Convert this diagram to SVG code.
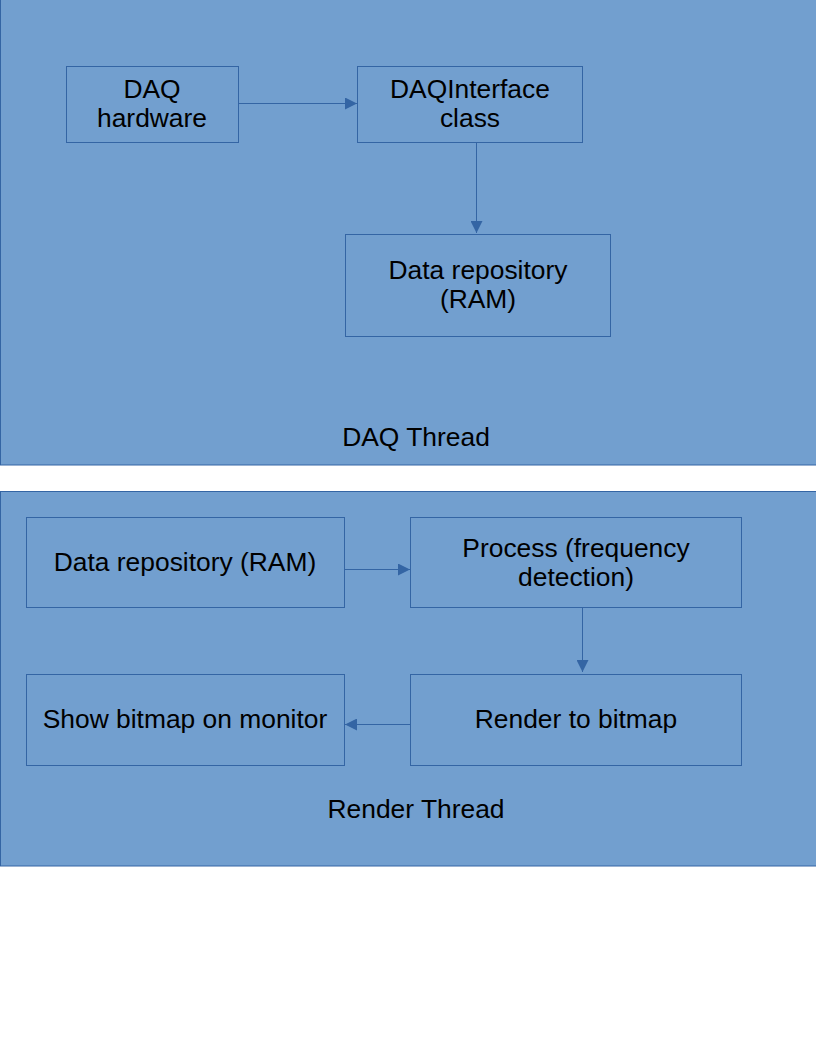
<svg xmlns="http://www.w3.org/2000/svg" width="816" height="1056" viewBox="0 0 816 1056">
<style>
.area{fill:#729fcf;stroke:#3465a4;stroke-width:1}
.box{fill:#729fcf;stroke:#3465a4;stroke-width:1}
.t{font-family:"Liberation Sans",Arial,sans-serif;font-size:26.4px;fill:#000;text-anchor:middle}
.c{stroke:#3465a4;stroke-width:1;fill:none;marker-end:url(#ah)}
</style>
<defs>
<marker id="ah" viewBox="0 0 12 12" refX="12" refY="6" markerWidth="12" markerHeight="12" markerUnits="userSpaceOnUse" orient="auto">
<path d="M0,0 L12,6 L0,12 Z" fill="#3465a4"/>
</marker>
</defs>
<rect width="816" height="1056" fill="#fff"/>
<g id="daq-thread">
<rect class="area" x="0.5" y="-1" width="816" height="466"/>
<text class="t" x="416" y="446">DAQ Thread</text>
</g>
<g id="render-thread">
<rect class="area" x="0.5" y="491.5" width="816" height="374.5"/>
<text class="t" x="416" y="818">Render Thread</text>
</g>
<g id="daq-hardware">
<rect class="box" x="66.5" y="66.5" width="172" height="76"/>
<text class="t" x="152" y="98">DAQ</text>
<text class="t" x="152" y="127">hardware</text>
</g>
<g id="daq-interface">
<rect class="box" x="357.5" y="66.5" width="225" height="76"/>
<text class="t" x="470" y="98">DAQInterface</text>
<text class="t" x="470" y="127">class</text>
</g>
<g id="data-repo-1">
<rect class="box" x="345.5" y="234.5" width="265" height="102"/>
<text class="t" x="478" y="279">Data repository</text>
<text class="t" x="478" y="308">(RAM)</text>
</g>
<g id="data-repo-2">
<rect class="box" x="26.5" y="517.5" width="318" height="90"/>
<text class="t" x="185" y="571">Data repository (RAM)</text>
</g>
<g id="process">
<rect class="box" x="410.5" y="517.5" width="331" height="90"/>
<text class="t" x="576" y="557">Process (frequency</text>
<text class="t" x="576" y="586">detection)</text>
</g>
<g id="show-bitmap">
<rect class="box" x="26.5" y="674.5" width="318" height="91"/>
<text class="t" x="185" y="728">Show bitmap on monitor</text>
</g>
<g id="render-bitmap">
<rect class="box" x="410.5" y="674.5" width="331" height="91"/>
<text class="t" x="576" y="728">Render to bitmap</text>
</g>
<g id="connectors">
<path class="c" d="M238.5,103.5 H357"/>
<path class="c" d="M476.5,142.5 V233"/>
<path class="c" d="M344.5,569.5 H410"/>
<path class="c" d="M582.5,607.5 V672"/>
<path class="c" d="M410.5,724.5 H345"/>
</g>
</svg>
